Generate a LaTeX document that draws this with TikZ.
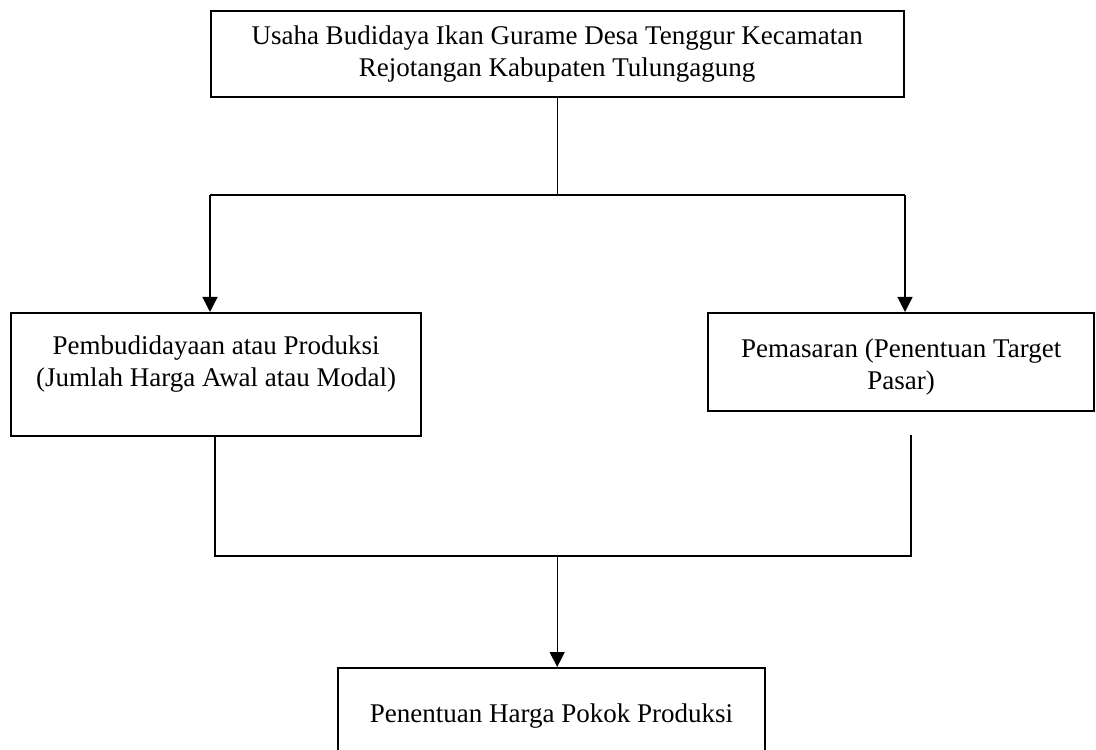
\documentclass[tikz,border=0pt]{standalone}
\usepackage{fontspec}
\setmainfont{Liberation Serif}
\usetikzlibrary{positioning, arrows.meta}

\tikzset{
  kotak/.style={draw, line width=1.2pt, align=center, inner sep=0pt,
    font=\fontsize{13.5}{16}\selectfont},
  garis/.style={line width=0.6pt},
  panah/.style={garis, -{Triangle[length=7.5pt,width=7.5pt]}}
}

\begin{document}
\begin{tikzpicture}[x=1pt,y=1pt]
    \useasboundingbox (0,0) rectangle (548,374.5);

    % boxes
    \node[kotak, anchor=north west, minimum width=346.5pt, minimum height=43pt] (usaha) at (104.75,369.5)
        {Usaha Budidaya Ikan Gurame Desa Tenggur Kecamatan\\Rejotangan Kabupaten Tulungagung};
    \node[kotak, anchor=north west, minimum width=205pt, minimum height=61.5pt, text depth=13.7pt] (budidaya) at (5,218.5)
        {Pembudidayaan atau Produksi\\(Jumlah Harga Awal atau Modal)};
    \node[kotak, anchor=north west, minimum width=193pt, minimum height=49pt] (pemasaran) at (353.5,218.5)
        {\rule{0pt}{13.9pt}Pemasaran (Penentuan Target\\Pasar)};
    \node[kotak, anchor=north, minimum width=213.5pt, minimum height=47.7pt] (harga) at (275.75,41)
        {Penentuan Harga Pokok Produksi};

    % branch points
    \coordinate (cabangL) at (105,277);
    \coordinate (cabangR) at (452.5,277);
    \coordinate (atasL) at (107.5,157);
    \coordinate (atasR) at (455.5,157);
    \coordinate (gabungL) at (107.5,96.5);
    \coordinate (gabungR) at (455.5,96.5);

    % top fork
    \draw[garis] (usaha.south) -- (usaha.south |- cabangL);
    \draw[garis] (cabangL) -- (cabangR);
    \draw[panah] (cabangL) -- (cabangL |- budidaya.north);
    \draw[panah] (cabangR) -- (cabangR |- pemasaran.north);

    % bottom join
    \draw[garis] (atasL) -- (gabungL) -- (gabungR) -- (atasR);
    \draw[panah] (usaha.south |- gabungL) -- (usaha.south |- harga.north);
\end{tikzpicture}
\end{document}
